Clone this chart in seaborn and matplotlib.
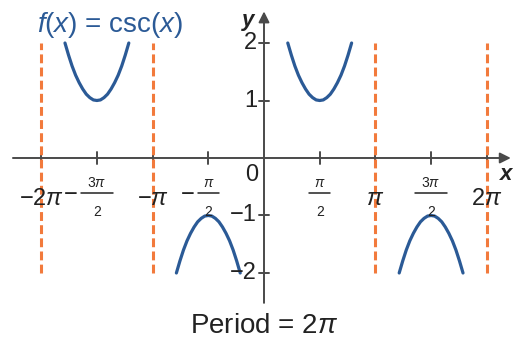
import numpy as np
import pandas as pd
import matplotlib
matplotlib.use("Agg")
import matplotlib.pyplot as plt
import seaborn as sns

# One branch of the cosecant curve: offsets from the branch centre and |f(x)|
branch_dx = [-0.9, -0.8, -0.7, -0.6, -0.5, -0.4, -0.3, -0.2, -0.1, 0.0,
             0.1, 0.2, 0.3, 0.4, 0.5, 0.6, 0.7, 0.8, 0.9]
branch_y = [2.00, 1.79, 1.60, 1.44, 1.31, 1.20, 1.11, 1.05, 1.01, 1.00,
            1.01, 1.05, 1.11, 1.20, 1.31, 1.44, 1.60, 1.79, 2.00]
branch_centers = [-3 * np.pi / 2, -np.pi / 2, np.pi / 2, 3 * np.pi / 2]
branch_signs = [1, -1, 1, -1]

# Vertical asymptotes
asymptotes = [-2 * np.pi, -np.pi, np.pi, 2 * np.pi]

# Axis ticks
xtick_values = [-2 * np.pi, -3 * np.pi / 2, -np.pi, -np.pi / 2,
                np.pi / 2, np.pi, 3 * np.pi / 2, 2 * np.pi]
xtick_labels = ["−2π", "−3π/2", "−π", "−π/2", "π/2", "π", "3π/2", "2π"]
ytick_values = [-2, -1, 1, 2]
ytick_labels = ["−2", "−1", "1", "2"]

title_text = r"$f(x)$ = csc($x$)"
period_text = r"Period = 2$\pi$"

BLUE = "#2b5a96"
ORANGE = "#f27a3c"
AXIS = "#4a4a4a"
TEXT = "#222222"

sns.set_style("white")
plt.rcParams["font.family"] = ["Liberation Sans", "DejaVu Sans"]
plt.rcParams["mathtext.fontset"] = "custom"
plt.rcParams["mathtext.rm"] = "Liberation Sans"
plt.rcParams["mathtext.it"] = "Liberation Sans:italic"
plt.rcParams["mathtext.bf"] = "Liberation Sans:bold"

rows = []
for b, (c, s) in enumerate(zip(branch_centers, branch_signs)):
    for dx, y in zip(branch_dx, branch_y):
        rows.append({"branch": b, "x": c + dx, "y": s * y})
df = pd.DataFrame(rows)

fig = plt.figure(figsize=(5.13, 3.41), dpi=100)
ax = fig.add_axes([0, 0, 1, 1])

# asymptotes
for a in asymptotes:
    ax.plot([a, a], [-2, 2], color=ORANGE, lw=2.2,
            linestyle=(0, (2.9, 1.4)), zorder=2)

sns.lineplot(data=df, x="x", y="y", units="branch", estimator=None,
             sort=False, color=BLUE, lw=2.3, ax=ax, legend=False, zorder=3)

ax.set_xlim(-7.445, 7.022)
ax.set_ylim(-3.183, 2.748)
ax.axis("off")

# axes with arrow heads
arrow = dict(arrowstyle="-|>", color=AXIS, lw=1.4, mutation_scale=16,
             shrinkA=0, shrinkB=0)
ax.annotate("", xy=(6.96, 0), xytext=(-7.08, 0), arrowprops=arrow, zorder=1)
ax.annotate("", xy=(0, 2.55), xytext=(0, -2.52), arrowprops=arrow, zorder=1)

# tick marks
for v in xtick_values:
    ax.plot([v, v], [-0.1, 0.1], color=AXIS, lw=1.4, zorder=1)
for v in ytick_values:
    ax.plot([-0.14, 0.14], [v, v], color=AXIS, lw=1.4, zorder=1)

# x tick labels
for v, lab in zip(xtick_values, xtick_labels):
    if "/" in lab:
        num, den = lab.lstrip("−").split("/")
        half = 0.45 if num.startswith("3") else 0.3
        ax.text(v, -0.44, num.replace("π", r"$\pi$"), ha="center", va="center",
                fontsize=10, color=TEXT)
        ax.plot([v - half, v + half], [-0.61, -0.61], color=TEXT, lw=1.1)
        ax.text(v, -0.94, den, ha="center", va="center", fontsize=10,
                color=TEXT)
        if lab.startswith("−"):
            ax.text(v - half - 0.28, -0.64, "−", ha="center", va="center",
                    fontsize=17, color=TEXT)
    else:
        ax.text(v, -0.72, lab.replace("π", r"$\pi$"), ha="center",
                va="center", fontsize=17, color=TEXT)

# y tick labels
for v, lab in zip(ytick_values, ytick_labels):
    ax.text(-0.2, v, lab, ha="right", va="center", fontsize=17, color=TEXT)

ax.text(-0.34, -0.3, "0", ha="center", va="center", fontsize=17, color=TEXT)
ax.text(6.82, -0.28, "x", ha="center", va="center", fontsize=16,
        fontweight="bold", fontstyle="italic", color=TEXT)
ax.text(-0.45, 2.40, "y", ha="center", va="center", fontsize=16,
        fontweight="bold", fontstyle="italic", color=TEXT)

ax.text(-4.34, 2.31, title_text, ha="center", va="center", fontsize=20,
        color=BLUE)
ax.text(0, -2.92, period_text, ha="center", va="center", fontsize=20,
        color=TEXT)

fig.savefig("out.png", dpi=100)
